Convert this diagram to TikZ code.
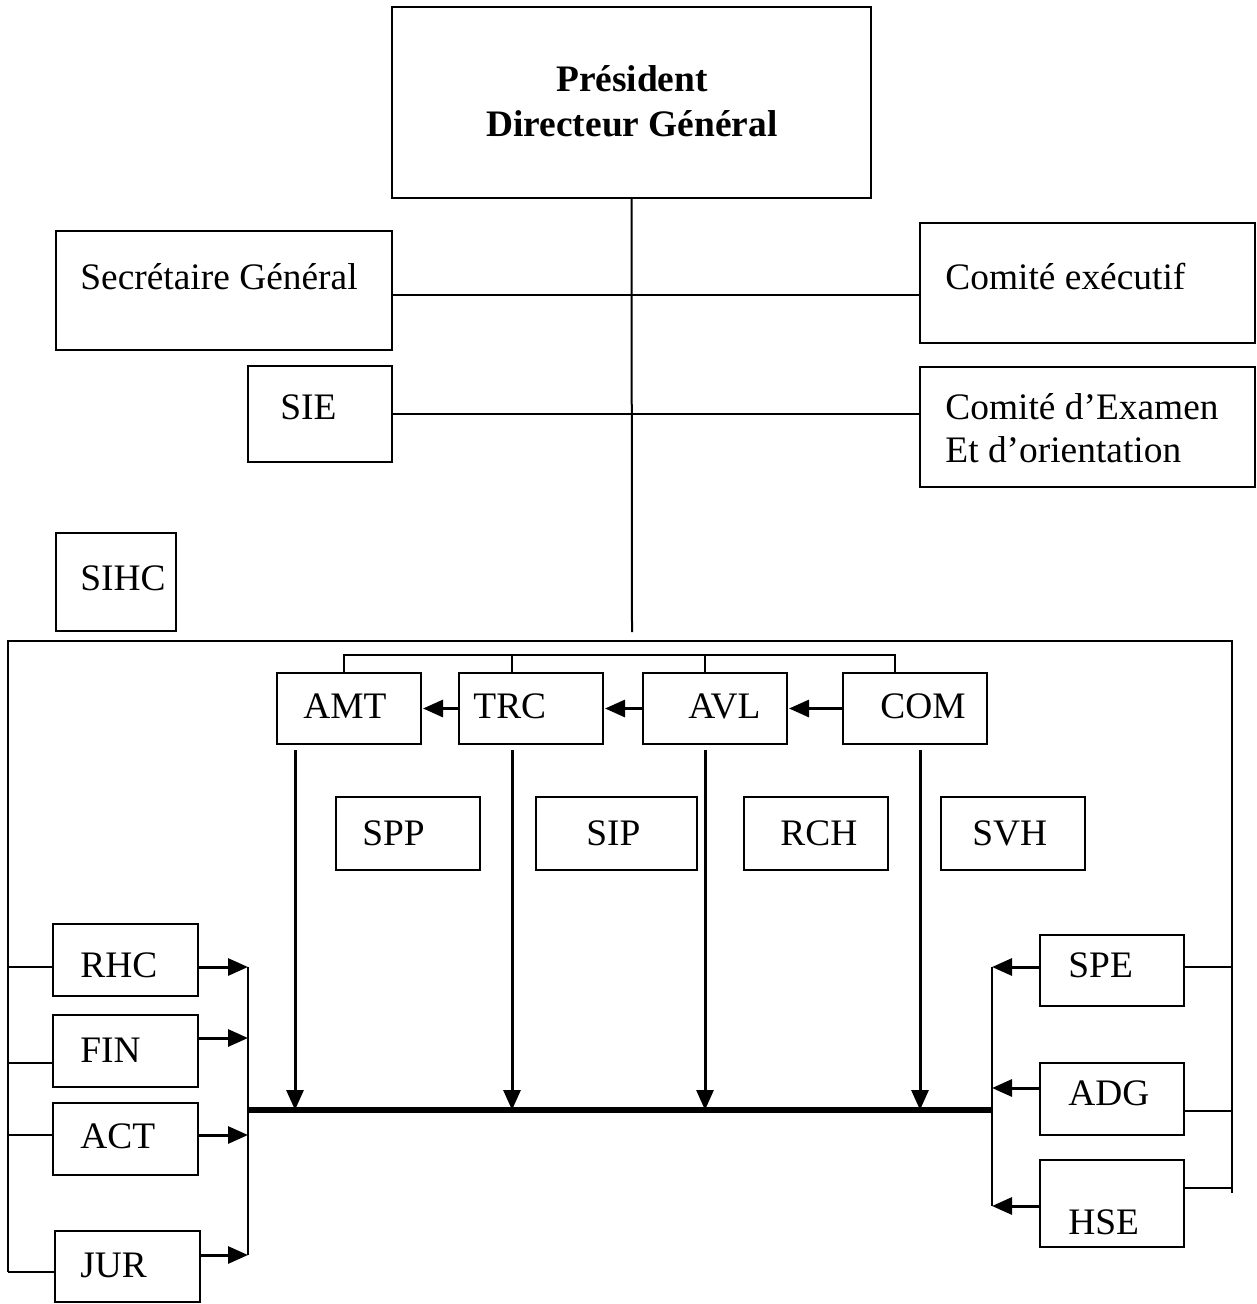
\documentclass[tikz,border=0pt]{standalone}
\usepackage{fontspec}
\setmainfont{Liberation Serif}
\usetikzlibrary{arrows.meta}

% A framed unit given by its corners: name, x1, y1, x2, y2
\newcommand\orgbox[5]{%
  \node[box, minimum width={(#4-#2)*0.5pt}, minimum height={(#5-#3)*0.5pt}]
    (#1) at ({(#2+#4)/2},{(#3+#5)/2}) {};}
% A text line set from its left end on its baseline: name, x, y, text
\newcommand\orglabel[4]{\node[lbl] (#1) at (#2,#3) {#4};}

\tikzset{
  box/.style={draw, line width=1pt, inner sep=0pt, outer sep=0pt},
  lbl/.style={font=\fontsize{18.7pt}{22.5pt}\selectfont, inner sep=0pt, anchor=base west},
  lblb/.style={font=\fontsize{18.7pt}{22.5pt}\selectfont\bfseries, inner sep=0pt, anchor=base},
  link/.style={line width=1pt},
  arr/.style={line width=1.5pt, -{Triangle[length=10pt,width=8.5pt]}},
  bus/.style={line width=2.6pt},
}

\begin{document}
\begin{tikzpicture}[x=0.5pt,y=-0.5pt]
\useasboundingbox (0,0) rectangle (1256,1304);

% ---- top management
\orgbox{pdg}{392}{7}{871}{198}
\node[lblb] (pdgA) at (632,92) {Président};
\node[lblb] (pdgB) at (632,137) {Directeur Général};

\orgbox{sg}{56}{231}{392}{350}
\orglabel{sgT}{80}{290}{Secrétaire Général}
\orgbox{ce}{920}{223}{1255}{343}
\orglabel{ceT}{945}{290}{Comité exécutif}
\orgbox{sie}{248}{366}{392}{462}
\orglabel{sieT}{280}{420}{SIE}
\orgbox{ceo}{920}{367}{1255}{487}
\orglabel{ceoA}{945}{420}{Comité d’Examen}
\orglabel{ceoB}{945}{462}{Et d’orientation}
\orgbox{sihc}{56}{533}{176}{631}
\orglabel{sihcT}{80}{590}{SIHC}

\coordinate (stem) at (632,632);
\coordinate (r1) at (632,295);
\coordinate (r2) at (632,414);
\draw[link] (pdg.south) -- (stem);
\draw[link] (sg.east |- r1) -- (ce.west |- r1);
\draw[link] (sie.east |- r2) -- (ceo.west |- r2);

% ---- operating divisions
\orgbox{amt}{277}{673}{421}{744}
\orglabel{amtT}{303}{718}{AMT}
\orgbox{trc}{459}{673}{603}{744}
\orglabel{trcT}{473}{718}{TRC}
\orgbox{avl}{643}{673}{787}{744}
\orglabel{avlT}{688}{718}{AVL}
\orgbox{com}{843}{673}{987}{744}
\orglabel{comT}{880}{718}{COM}

\orgbox{spp}{336}{797}{480}{870}
\orglabel{sppT}{362}{845}{SPP}
\orgbox{sip}{536}{797}{697}{870}
\orglabel{sipT}{586}{845}{SIP}
\orgbox{rch}{744}{797}{888}{870}
\orglabel{rchT}{780}{845}{RCH}
\orgbox{svh}{941}{797}{1085}{870}
\orglabel{svhT}{972}{845}{SVH}

% ---- support functions, left
\orgbox{rhc}{53}{924}{198}{996}
\orglabel{rhcT}{80}{977}{RHC}
\orgbox{fin}{53}{1015}{198}{1087}
\orglabel{finT}{80}{1062}{FIN}
\orgbox{act}{53}{1103}{198}{1175}
\orglabel{actT}{80}{1148}{ACT}
\orgbox{jur}{55}{1231}{200}{1302}
\orglabel{jurT}{80}{1277}{JUR}

% ---- support functions, right
\orgbox{spe}{1040}{935}{1184}{1006}
\orglabel{speT}{1068}{977}{SPE}
\orgbox{adg}{1040}{1063}{1184}{1135}
\orglabel{adgT}{1068}{1105}{ADG}
\orgbox{hse}{1040}{1160}{1184}{1247}
\orglabel{hseT}{1068}{1234}{HSE}

% ---- outer frame
\coordinate (fTL) at (8,641);
\coordinate (fTR) at (1232,641);
\coordinate (fBL) at (8,1272);
\coordinate (fBR) at (1232,1193);
\draw[link] (fBL) -- (fTL) -- (fTR) -- (fBR);

% ---- link above the divisions
\coordinate (t1) at (344,655);
\coordinate (t2) at (512,655);
\coordinate (t3) at (705,655);
\coordinate (t4) at (895,655);
\draw[link] (t1 |- amt.north) -- (t1) -- (t4) -- (t4 |- com.north);
\draw[link] (t2) -- (t2 |- trc.north);
\draw[link] (t3) -- (t3 |- avl.north);

\draw[arr, shorten >=1pt] (trc.west) -- (amt.east);
\draw[arr, shorten >=1pt] (avl.west) -- (trc.east);
\draw[arr, shorten >=1pt] (com.west) -- (avl.east);

% ---- main bus
\coordinate (busL) at (248,1110);
\coordinate (busR) at (992,1110);
\coordinate (d1) at (295,1110);
\coordinate (d2) at (512,1110);
\coordinate (d3) at (705,1110);
\coordinate (d4) at (920,1110);
\draw[arr] ([yshift=-3pt]d1 |- amt.south) -- (d1);
\draw[arr] ([yshift=-3pt]d2 |- trc.south) -- (d2);
\draw[arr] ([yshift=-3pt]d3 |- avl.south) -- (d3);
\draw[arr] ([yshift=-3pt]d4 |- com.south) -- (d4);
\draw[bus] (busL) -- (busR);

% ---- left side links
\coordinate (lb1) at (8,967);
\coordinate (lb2) at (8,1063);
\coordinate (lb3) at (8,1135);
\draw[link] (lb1) -- (rhc.west |- lb1);
\draw[link] (lb2) -- (fin.west |- lb2);
\draw[link] (lb3) -- (act.west |- lb3);
\draw[link] (fBL) -- (jur.west |- fBL);

\coordinate (la1) at (248,967);
\coordinate (la2) at (248,1038);
\coordinate (la3) at (248,1135);
\coordinate (la4) at (248,1255);
\draw[link] (la1) -- (la4);
\draw[arr] (rhc.east |- la1) -- (la1);
\draw[arr] (fin.east |- la2) -- (la2);
\draw[arr] (act.east |- la3) -- (la3);
\draw[arr] (jur.east |- la4) -- (la4);

% ---- right side links
\coordinate (ra1) at (992,967);
\coordinate (ra2) at (992,1088);
\coordinate (ra3) at (992,1206);
\draw[link] (ra1) -- (ra3);
\draw[arr] (spe.west |- ra1) -- (ra1);
\draw[arr] (adg.west |- ra2) -- (ra2);
\draw[arr] (hse.west |- ra3) -- (ra3);

\coordinate (rb1) at (1232,967);
\coordinate (rb2) at (1232,1111);
\coordinate (rb3) at (1232,1188);
\draw[link] (spe.east |- rb1) -- (rb1);
\draw[link] (adg.east |- rb2) -- (rb2);
\draw[link] (hse.east |- rb3) -- (rb3);
\end{tikzpicture}
\end{document}
